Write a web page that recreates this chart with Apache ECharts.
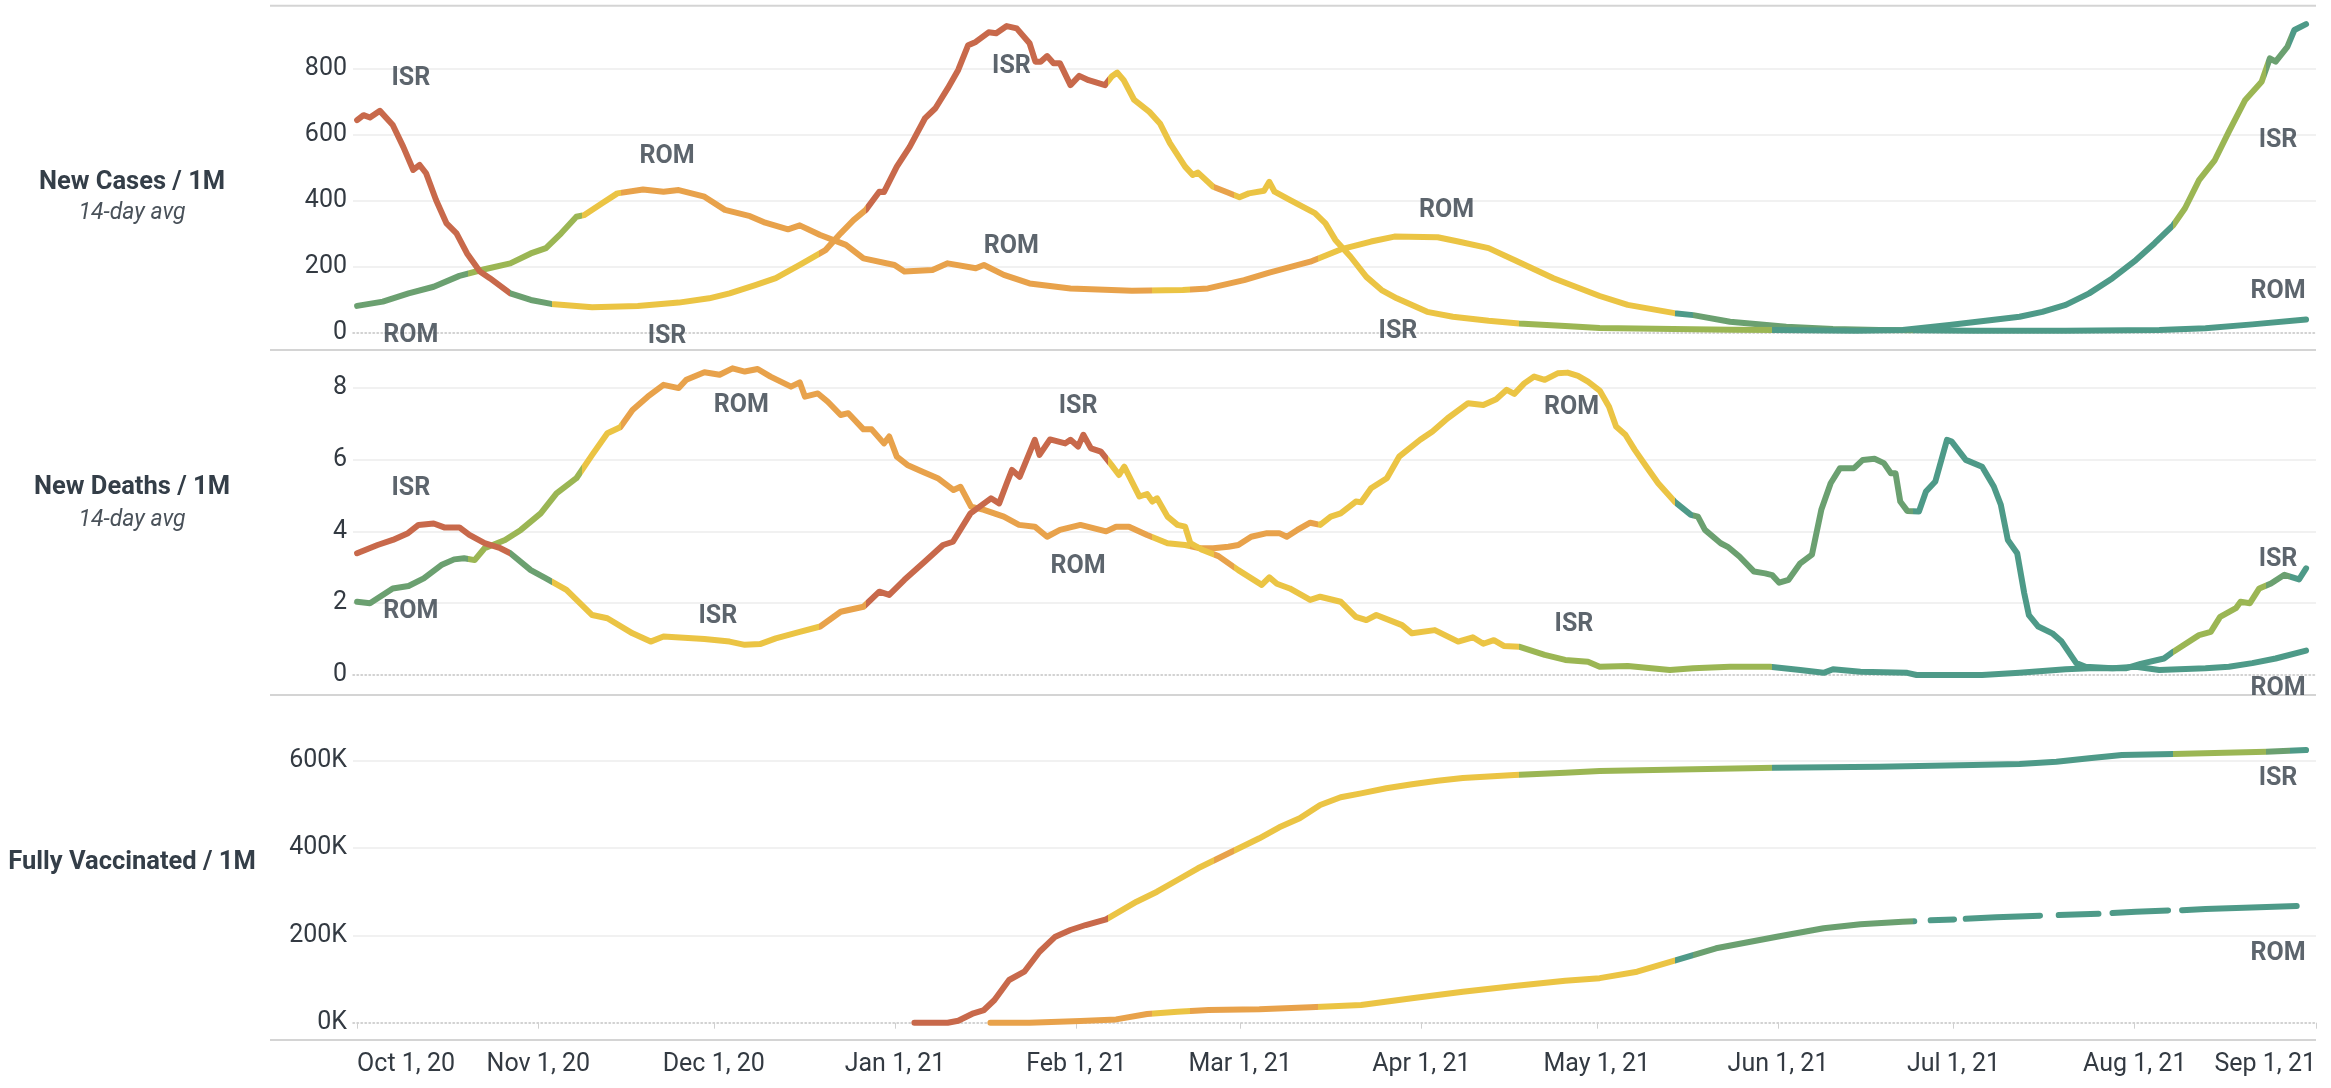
<!DOCTYPE html>
<html><head><meta charset="utf-8">
<script src="https://cdn.jsdelivr.net/npm/echarts@6/dist/echarts.min.js"></script>
<style>html,body{margin:0;padding:0;background:#fff}#c{width:2331px;height:1088px}</style>
</head><body><div id="c"></div>
<script>
// x values are days since Oct 1, 2020
const monthTickDays = [0, 31, 61, 92, 123, 151, 182, 212, 243, 273, 304, 335];
const monthTickLabels = ['Oct 1, 20','Nov 1, 20','Dec 1, 20','Jan 1, 21','Feb 1, 21','Mar 1, 21','Apr 1, 21','May 1, 21','Jun 1, 21','Jul 1, 21','Aug 1, 21','Sep 1, 21'];
const rowTitles = ['New Cases / 1M', 'New Deaths / 1M', 'Fully Vaccinated / 1M'];
const rowSubtitles = ['14-day avg', '14-day avg', ''];

// ---- New cases / 1M ----
const isrCasesDays = [0,1.1,2.2,3.9,6.1,7.9,9.6,10.7,11.8,13.5,15.3,17,18.8,21,22.7,26.2,29.7,33.2,40.2,48,55,60.2,63.7,68.1,71.6,75.7,80.1,82.7,84.9,87,89.3,90.1,92.3,94.5,97.1,98.9,101,102.8,104.5,105.8,108,109.3,111.1,112.8,115,116,116.9,118,119.1,120.2,122,123.5,125.1,127.9,129.1,130,131.1,132.9,135.5,137.3,139,141.6,142.9,143.8,146.4,149,150.9,152.5,155.1,156,156.9,159.5,163.8,165.6,167.3,169.9,172.6,175.2,177.8,183,187.4,193.5,198.7,206.6,212.5,225,235,242.4,256.4,264.3,272.3,280.3,284.3,288.2,292.2,296.2,300.2,304.2,307.4,310.6,312.6,315,317.7,320.1,322.9,325.7,327.1,328.1,330.1,331.3,333.3];
const isrCasesValues = [643,658,651,671,628,562,492,507,482,401,330,300,239,184,164,118,98,86,76,80,90,103,118,143,164,204,249,300,340,371,426,425,502,562,648,679,739,795,870,880,909,906,928,921,876,820,820,837,815,815,749,777,764,749,776,787,764,704,668,633,573,502,477,484,441,423,409,421,429,456,426,401,361,330,280,229,168,128,103,62,47,35,27,19,13,10,8,7,5,7,22,39,47,62,83,118,164,219,270,325,376,461,522,608,704,759,830,820,865,916,934];
const romCasesDays = [0,4.4,8.8,13.1,17.5,21.8,26.2,29.7,32.3,34.9,37.5,38.8,41.9,44.5,48.9,52.4,55,59.4,62.9,67.2,69.8,73.7,75.7,79.2,83.6,86.6,91.9,93.6,98.4,101,105.8,107.2,110.6,115,122,132.5,141.2,145.5,151.7,156,163,168.2,173.4,177.4,184.8,188.3,193.5,197.9,204.6,212.5,217.3,225.3,228.5,234.8,244.4,252.4,260.3,276.3,292.2,308.2,316.1,324.1,333.3];
const romCasesValues = [80,93,118,138,171,191,209,239,255,300,350,355,391,421,433,426,431,411,371,352,332,312,324,295,265,224,204,184,189,209,194,204,174,148,133,126,128,133,158,181,214,251,275,290,288,275,255,219,164,110,83,58,52,32,17,10,7,5,5,7,12,24,39];

// ---- New deaths / 1M ----
const isrDeathsDays = [0,3.5,6.1,8.7,10.5,13.1,14.9,17.5,19.2,21.8,24.5,26.2,29.7,32.3,35.8,40.2,42.8,47.1,50.2,52.4,59.4,63.7,66.3,68.9,71.6,75.7,79.2,82.7,86.6,89.3,91,93.6,97.1,100.2,101.9,104.9,108.4,109.8,111.1,112,113.3,115.9,116.7,118.5,121.1,122,123.3,124.2,125.5,127.2,129,130.3,131.2,133.8,135.1,136,136.8,138.6,140.3,141.6,142.5,144.6,147.3,150.7,154.7,156,157.3,159.5,163,164.7,168.2,170.8,172.6,174.3,178.7,180.4,184.3,188.3,190.8,192.6,194.4,196.1,198.7,203.1,206.6,210.5,212.5,217.3,224.5,228.5,234.8,241.6,246.8,250.8,252.4,257.1,265.1,266.7,277.9,284.3,292.2,296.2,302.6,305,309,310.6,315,317,318.6,321.3,322.1,323.7,325.3,327.3,329.6,332.1,333.3];
const isrDeathsValues = [3.39,3.62,3.76,3.95,4.18,4.22,4.11,4.11,3.9,3.67,3.53,3.39,2.92,2.69,2.37,1.67,1.58,1.16,0.93,1.07,1.0,0.93,0.84,0.86,1.02,1.2,1.35,1.76,1.9,2.32,2.23,2.65,3.16,3.62,3.71,4.5,4.92,4.78,5.34,5.71,5.52,6.55,6.13,6.56,6.45,6.55,6.36,6.69,6.31,6.22,5.85,5.57,5.8,4.97,5.04,4.83,4.92,4.41,4.18,4.13,3.67,3.48,3.31,2.92,2.51,2.72,2.54,2.41,2.09,2.18,2.04,1.62,1.53,1.67,1.39,1.16,1.25,0.93,1.05,0.87,0.97,0.81,0.79,0.56,0.42,0.37,0.23,0.25,0.14,0.19,0.23,0.23,0.14,0.06,0.16,0.09,0.06,0,0,0.06,0.16,0.19,0.19,0.31,0.46,0.65,1.11,1.2,1.62,1.86,2.04,2.0,2.41,2.55,2.79,2.66,2.97];
const romDeathsDays = [0,2.2,6.1,8.8,11.4,14.4,16.6,18.3,20.1,21.8,25.3,28,31.4,34.1,37.5,40.2,42.8,45,47.1,49.7,52.4,55,56.3,59.4,62,64.2,66.3,68.5,70.7,74.2,75.7,76.6,78.8,80.5,82.7,84,86.6,88,90.1,91,92.3,94.1,96.7,99.3,102,103.2,105,107.2,110.6,113.2,115.9,118,120.2,123.7,125.9,128.1,129.8,132,135.1,138.6,141.6,144.2,146.4,149,150.7,152.9,155.6,157.7,159,160.8,163,164.7,166.5,168.2,170.8,171.7,173.4,176.1,178.2,181.8,183.9,186.5,190,192.6,194.8,196.6,197.9,199.6,201.3,203.1,205.3,207,208.8,210.5,212.5,214.1,215.3,216.9,218.5,220.5,222.5,225.3,228.1,229.3,230.5,233.2,234.4,236.4,238.9,240.8,242,243.2,244.8,246.8,248.8,250.4,252,253.6,256,257.5,259.5,261.1,262.3,263.1,263.9,265.1,267.1,268.3,269.9,271.9,272.7,275.1,277.9,279.9,281.1,282.3,283.9,285.1,285.9,287.5,289.9,291.5,294,295.6,300.2,304.2,308.2,316.1,320.1,324.1,328.1,333.3];
const romDeathsValues = [2.04,2.0,2.41,2.48,2.69,3.06,3.22,3.25,3.2,3.53,3.76,4.04,4.5,5.06,5.48,6.13,6.73,6.9,7.38,7.75,8.08,7.99,8.22,8.43,8.36,8.54,8.45,8.52,8.31,8.03,8.15,7.75,7.84,7.61,7.24,7.29,6.84,6.84,6.45,6.64,6.08,5.85,5.66,5.48,5.15,5.24,4.69,4.6,4.41,4.18,4.13,3.85,4.04,4.18,4.09,4.0,4.13,4.13,3.9,3.67,3.62,3.53,3.53,3.57,3.62,3.85,3.95,3.95,3.85,4.04,4.24,4.18,4.41,4.5,4.83,4.81,5.2,5.48,6.08,6.55,6.78,7.15,7.57,7.52,7.68,7.94,7.83,8.12,8.31,8.22,8.4,8.42,8.33,8.17,7.92,7.47,6.92,6.69,6.27,5.8,5.34,4.83,4.46,4.41,4.04,3.67,3.57,3.3,2.88,2.83,2.78,2.57,2.65,3.11,3.35,4.6,5.34,5.76,5.76,5.99,6.02,5.9,5.62,5.62,4.83,4.57,4.55,5.11,5.39,6.55,6.5,5.99,5.8,5.25,4.74,3.76,3.39,2.28,1.67,1.35,1.16,0.93,0.33,0.23,0.19,0.23,0.14,0.19,0.23,0.33,0.46,0.68];

// ---- Fully vaccinated / 1M (null = missing day) ----
const isrVaccDays = [95.3,101,102.8,105.4,107.2,109,111.5,114.1,116.7,119.4,122,124.6,128.1,133.3,136.8,140.3,143.8,147.3,150.8,154.3,157.7,161.2,164.7,168.2,171.7,176,180.4,184.8,189.1,197.9,206.6,212.5,242.4,260.3,276.3,284.3,290.6,296.2,301.8,310.6,326.5,333.3];
const isrVaccValues = [0,0,4600,21500,29000,52000,97800,116800,162600,197000,212300,223700,236800,277100,300000,326800,353600,376500,399400,422300,447500,468100,498500,516200,525300,536800,545900,554200,560400,567200,572500,576400,584000,586200,590100,592400,597700,605500,613000,615300,620600,624500];
const romVaccDays = [108.3,115,123.7,129.8,135.1,140.3,145.6,154.3,163,171.7,180.4,189.1,197.9,206.6,212.5,218.9,225.3,232.4,242.8,250.8,257.1,264.3,266.3,267.7,269.1,273.1,274.1,275.1,280.3,287.8,289.4,291,297.8,299,300.2,304.2,309.7,310.9,312.1,316.1,324,331.7];
const romVaccValues = [0,0,3900,7600,19900,25200,29100,30700,35300,40500,55900,71000,84000,96200,102000,116800,142000,170400,197000,216200,225300,231300,232200,null,234500,236500,null,237800,241400,245000,null,246500,249500,null,251000,254200,257000,null,257800,260400,264000,267200];

// ---- colour level per country and date (0 red .. 5 teal) ----
const levelColors = ['#c8694b', '#e8a24b', '#ebc444', '#9bb654', '#6ba070', '#4e9a88'];
const isrLevelDays = [0, 26.2, 33.3, 79, 87, 128.5, 146.5, 150, 198.7, 242, 310.6, 326.5, 330.5];
const isrLevels    = [0, 4, 2, 1, 0, 2, 1, 2, 3, 5, 3, 4, 5];
const romLevelDays = [0, 19, 38.5, 45.2, 136, 142.5, 164.3, 225.3, 228.5, 266];
const romLevels    = [4, 3, 2, 1, 2, 1, 2, 5, 4, 5];

// ---- country labels [day, value, text] per panel ----
const casesLabels = [[9.2,767,'ISR'],[9.2,-11,'ROM'],[53,532,'ROM'],[53,-13,'ISR'],[111.9,805,'ISR'],[111.9,259,'ROM'],[186.3,368,'ROM'],[178,2,'ISR'],[328.5,581,'ISR'],[328.5,123,'ROM']];
const deathsLabels = [[9.2,5.18,'ISR'],[9.2,1.76,'ROM'],[65.7,7.49,'ROM'],[61.7,1.61,'ISR'],[123.3,7.47,'ISR'],[123.3,3.02,'ROM'],[207.7,7.43,'ROM'],[208.1,1.39,'ISR'],[328.5,3.2,'ISR'],[328.5,-0.37,'ROM']];
const vaccLabels = [[328.5,559700,'ISR'],[328.5,158900,'ROM']];

// ---------------- layout ----------------
const FONT = 'Roboto, "Noto Sans", sans-serif';
const TXT = '#343e48';
const plotLeft = 353, plotRight = 2316, W = 2331;
const panes = [
  {top: 5.7, zero: 332.3, max: 989.7, step: 200, fmt: v => String(v)},
  {top: 350, zero: 675, max: 9.05, step: 2, fmt: v => String(v)},
  {top: 695, zero: 1022.7, max: 750500, step: 200000, fmt: v => (v / 1000) + 'K'}
];
const borderYs = [5.7, 350, 695, 1040];
const headerY = [[183, 213], [488, 520], [863, 0]];

const pairs = (ds, vs) => ds.map((d, i) => [d, vs[i]]);
const pieces = (days, lv) => days.map((d, i) => {
  const p = {color: levelColors[lv[i]]};
  if (i > 0) p.gte = d;
  if (i < days.length - 1) p.lt = days[i + 1];
  return p;
});

const grid = panes.map(p => ({left: plotLeft, right: W - plotRight, top: p.top, height: p.zero - p.top}));
const xAxis = panes.map((p, i) => ({
  gridIndex: i, type: 'value', min: -0.7, max: 335,
  axisLine: {show: true, onZero: false, lineStyle: {color: '#c4c4c4', width: 1.5, type: [1.5, 2.5]}},
  axisTick: {show: false}, axisLabel: {show: false}, splitLine: {show: false}
}));
xAxis.push({
  gridIndex: 2, type: 'value', min: -0.7, max: 335, position: 'bottom', offset: 1040 - 1022.7,
  axisLine: {show: false},
  axisTick: {show: true, length: 6, customValues: monthTickDays, lineStyle: {color: '#d0d0d0', width: 1}},
  axisLabel: {show: true, customValues: monthTickDays, margin: 12, fontSize: 25, fontFamily: FONT, color: '#333a42',
    alignMinLabel: 'left', alignMaxLabel: 'right',
    formatter: v => monthTickLabels[monthTickDays.indexOf(Math.round(v))] || ''},
  splitLine: {show: false}
});
const yAxis = panes.map((p, i) => ({
  gridIndex: i, type: 'value', min: 0, max: p.max, interval: p.step,
  axisLine: {show: false}, axisTick: {show: false},
  axisLabel: {fontSize: 25, fontFamily: FONT, color: '#333a42', margin: 6,
    formatter: v => (Math.abs(v / p.step - Math.round(v / p.step)) < 1e-6 ? p.fmt(v) : '')},
  splitLine: {show: true, showMinLine: false, showMaxLine: false, lineStyle: {color: '#ececec', width: 1.5}}
}));

const lineSeries = (idx, data) => ({
  type: 'line', xAxisIndex: idx, yAxisIndex: idx, data, showSymbol: false, symbol: 'none',
  clip: false, connectNulls: false, animation: false, silent: true,
  lineStyle: {width: 6, cap: 'round', join: 'round'}
});
const labelSeries = (idx, arr) => ({
  type: 'scatter', xAxisIndex: idx, yAxisIndex: idx, clip: false, silent: true, animation: false,
  symbolSize: 1, itemStyle: {color: 'rgba(0,0,0,0)'}, z: 10,
  data: arr.map(a => ({value: [a[0], a[1]], name: a[2]})),
  label: {show: true, position: 'inside', formatter: '{b}', fontSize: 25, fontWeight: 'bold', fontFamily: FONT, color: TXT}
});

const series = [
  lineSeries(0, pairs(romCasesDays, romCasesValues)),
  lineSeries(0, pairs(isrCasesDays, isrCasesValues)),
  lineSeries(1, pairs(romDeathsDays, romDeathsValues)),
  lineSeries(1, pairs(isrDeathsDays, isrDeathsValues)),
  lineSeries(2, pairs(romVaccDays, romVaccValues)),
  lineSeries(2, pairs(isrVaccDays, isrVaccValues)),
  labelSeries(0, casesLabels),
  labelSeries(1, deathsLabels),
  labelSeries(2, vaccLabels)
];

const graphic = [];
borderYs.forEach(y => graphic.push({type: 'line', silent: true, shape: {x1: 270, y1: y, x2: plotRight, y2: y}, style: {stroke: '#d4d4d4', lineWidth: 2}}));
rowTitles.forEach((t, i) => {
  graphic.push({type: 'text', silent: true, x: 132, y: headerY[i][0], style: {text: t, font: 'bold 25.5px ' + FONT, fill: TXT, align: 'center', verticalAlign: 'middle'}});
  if (rowSubtitles[i]) graphic.push({type: 'text', silent: true, x: 132, y: headerY[i][1], style: {text: rowSubtitles[i], font: 'italic 23px ' + FONT, fill: '#4a525a', align: 'center', verticalAlign: 'middle'}});
});

const chart = echarts.init(document.getElementById('c'), null, {renderer: 'canvas'});
chart.setOption({
  animation: false,
  backgroundColor: '#ffffff',
  grid, xAxis, yAxis, series, graphic,
  visualMap: [
    {type: 'piecewise', show: false, dimension: 0, seriesIndex: [1, 3, 5], pieces: pieces(isrLevelDays, isrLevels)},
    {type: 'piecewise', show: false, dimension: 0, seriesIndex: [0, 2, 4], pieces: pieces(romLevelDays, romLevels)}
  ]
});
</script></body></html>
